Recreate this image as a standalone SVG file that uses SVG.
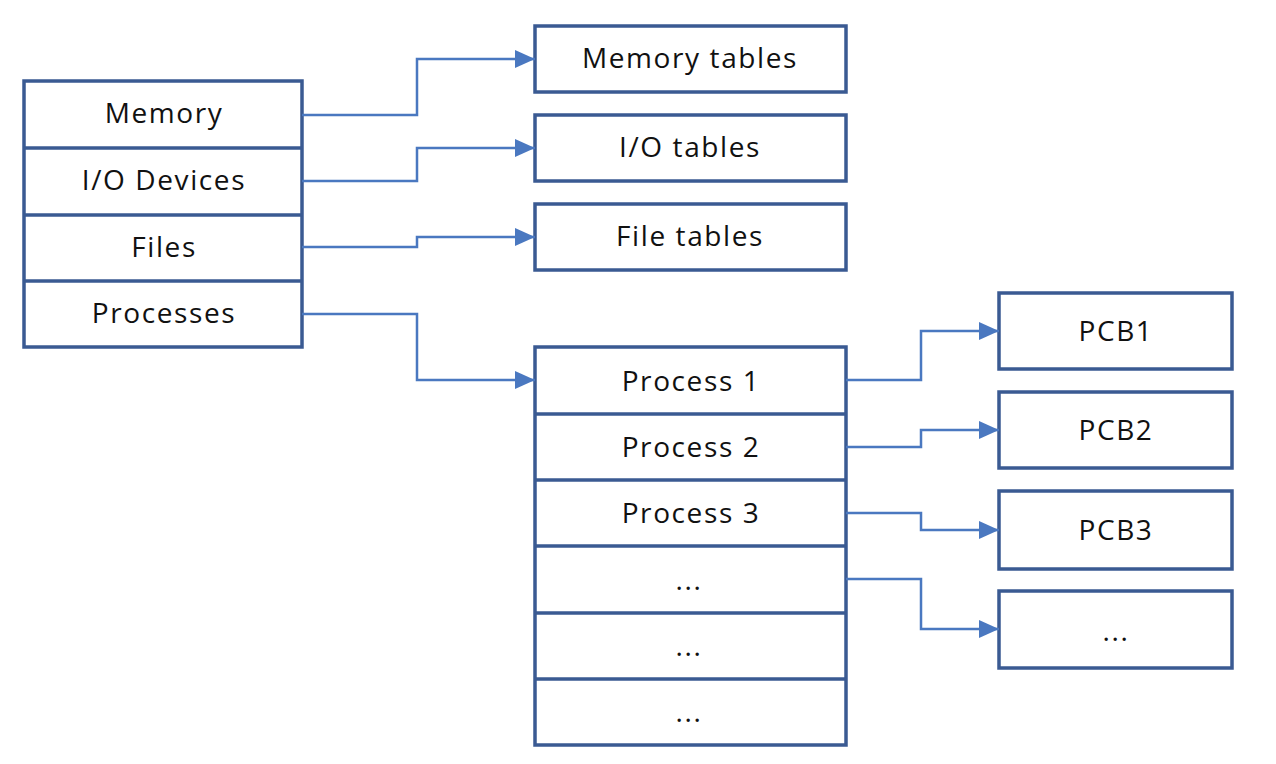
<svg xmlns="http://www.w3.org/2000/svg" width="1276" height="764" viewBox="0 0 1276 764">
<defs>
<style>
.box{fill:#fff;stroke:#3a5a92;stroke-width:3.5}
.div{stroke:#3a5a92;stroke-width:3.5}
.lbl{font-family:"Open Sans","Noto Sans",sans-serif;font-size:28px;letter-spacing:1.6px;fill:#111;text-anchor:middle}
.con{fill:none;stroke:#4a78c0;stroke-width:2.5}
</style>
<marker id="arr" viewBox="0 0 20 18" refX="20" refY="9" markerWidth="20" markerHeight="18" markerUnits="userSpaceOnUse" orient="auto">
<path d="M0,0 L20,9 L0,18 Z" fill="#4a78c0"/>
</marker>
</defs>
<rect width="1276" height="764" fill="#fff"/>
<g id="resources">
<rect class="box" x="24" y="81" width="278" height="266"/>
<line class="div" x1="24" y1="148" x2="302" y2="148"/>
<line class="div" x1="24" y1="215" x2="302" y2="215"/>
<line class="div" x1="24" y1="281" x2="302" y2="281"/>
<text class="lbl" x="164" y="123">Memory</text>
<text class="lbl" x="164" y="190">I/O Devices</text>
<text class="lbl" x="164" y="257">Files</text>
<text class="lbl" x="164" y="323">Processes</text>
</g>
<g id="memory-tables">
<rect class="box" x="535" y="26" width="311" height="66"/>
<text class="lbl" x="690" y="68">Memory tables</text>
</g>
<g id="io-tables">
<rect class="box" x="535" y="115" width="311" height="66"/>
<text class="lbl" x="690" y="157">I/O tables</text>
</g>
<g id="file-tables">
<rect class="box" x="535" y="204" width="311" height="66"/>
<text class="lbl" x="690" y="246">File tables</text>
</g>
<g id="process-table">
<rect class="box" x="535" y="347" width="311" height="398"/>
<line class="div" x1="535" y1="414" x2="846" y2="414"/>
<line class="div" x1="535" y1="480" x2="846" y2="480"/>
<line class="div" x1="535" y1="546" x2="846" y2="546"/>
<line class="div" x1="535" y1="613" x2="846" y2="613"/>
<line class="div" x1="535" y1="679" x2="846" y2="679"/>
<text class="lbl" x="691" y="391">Process 1</text>
<text class="lbl" x="691" y="457">Process 2</text>
<text class="lbl" x="691" y="523">Process 3</text>
<text class="lbl" x="689" y="590">...</text>
<text class="lbl" x="689" y="656">...</text>
<text class="lbl" x="689" y="722">...</text>
</g>
<g id="pcb1">
<rect class="box" x="999" y="293" width="233" height="76"/>
<text class="lbl" x="1116" y="341">PCB1</text>
</g>
<g id="pcb2">
<rect class="box" x="999" y="392" width="233" height="76"/>
<text class="lbl" x="1116" y="440">PCB2</text>
</g>
<g id="pcb3">
<rect class="box" x="999" y="491" width="233" height="78"/>
<text class="lbl" x="1116" y="540">PCB3</text>
</g>
<g id="pcb-more">
<rect class="box" x="999" y="591" width="233" height="77"/>
<text class="lbl" x="1116" y="641">...</text>
</g>
<g id="connectors">
<path class="con" marker-end="url(#arr)" d="M302,115 H417 V59 H535"/>
<path class="con" marker-end="url(#arr)" d="M302,181 H417 V148 H535"/>
<path class="con" marker-end="url(#arr)" d="M302,247 H417 V237 H535"/>
<path class="con" marker-end="url(#arr)" d="M302,314 H417 V380 H535"/>
<path class="con" marker-end="url(#arr)" d="M846,380 H921 V331 H999"/>
<path class="con" marker-end="url(#arr)" d="M846,447 H921 V430 H999"/>
<path class="con" marker-end="url(#arr)" d="M846,513 H921 V530 H999"/>
<path class="con" marker-end="url(#arr)" d="M846,579 H921 V629 H999"/>
</g>
</svg>
